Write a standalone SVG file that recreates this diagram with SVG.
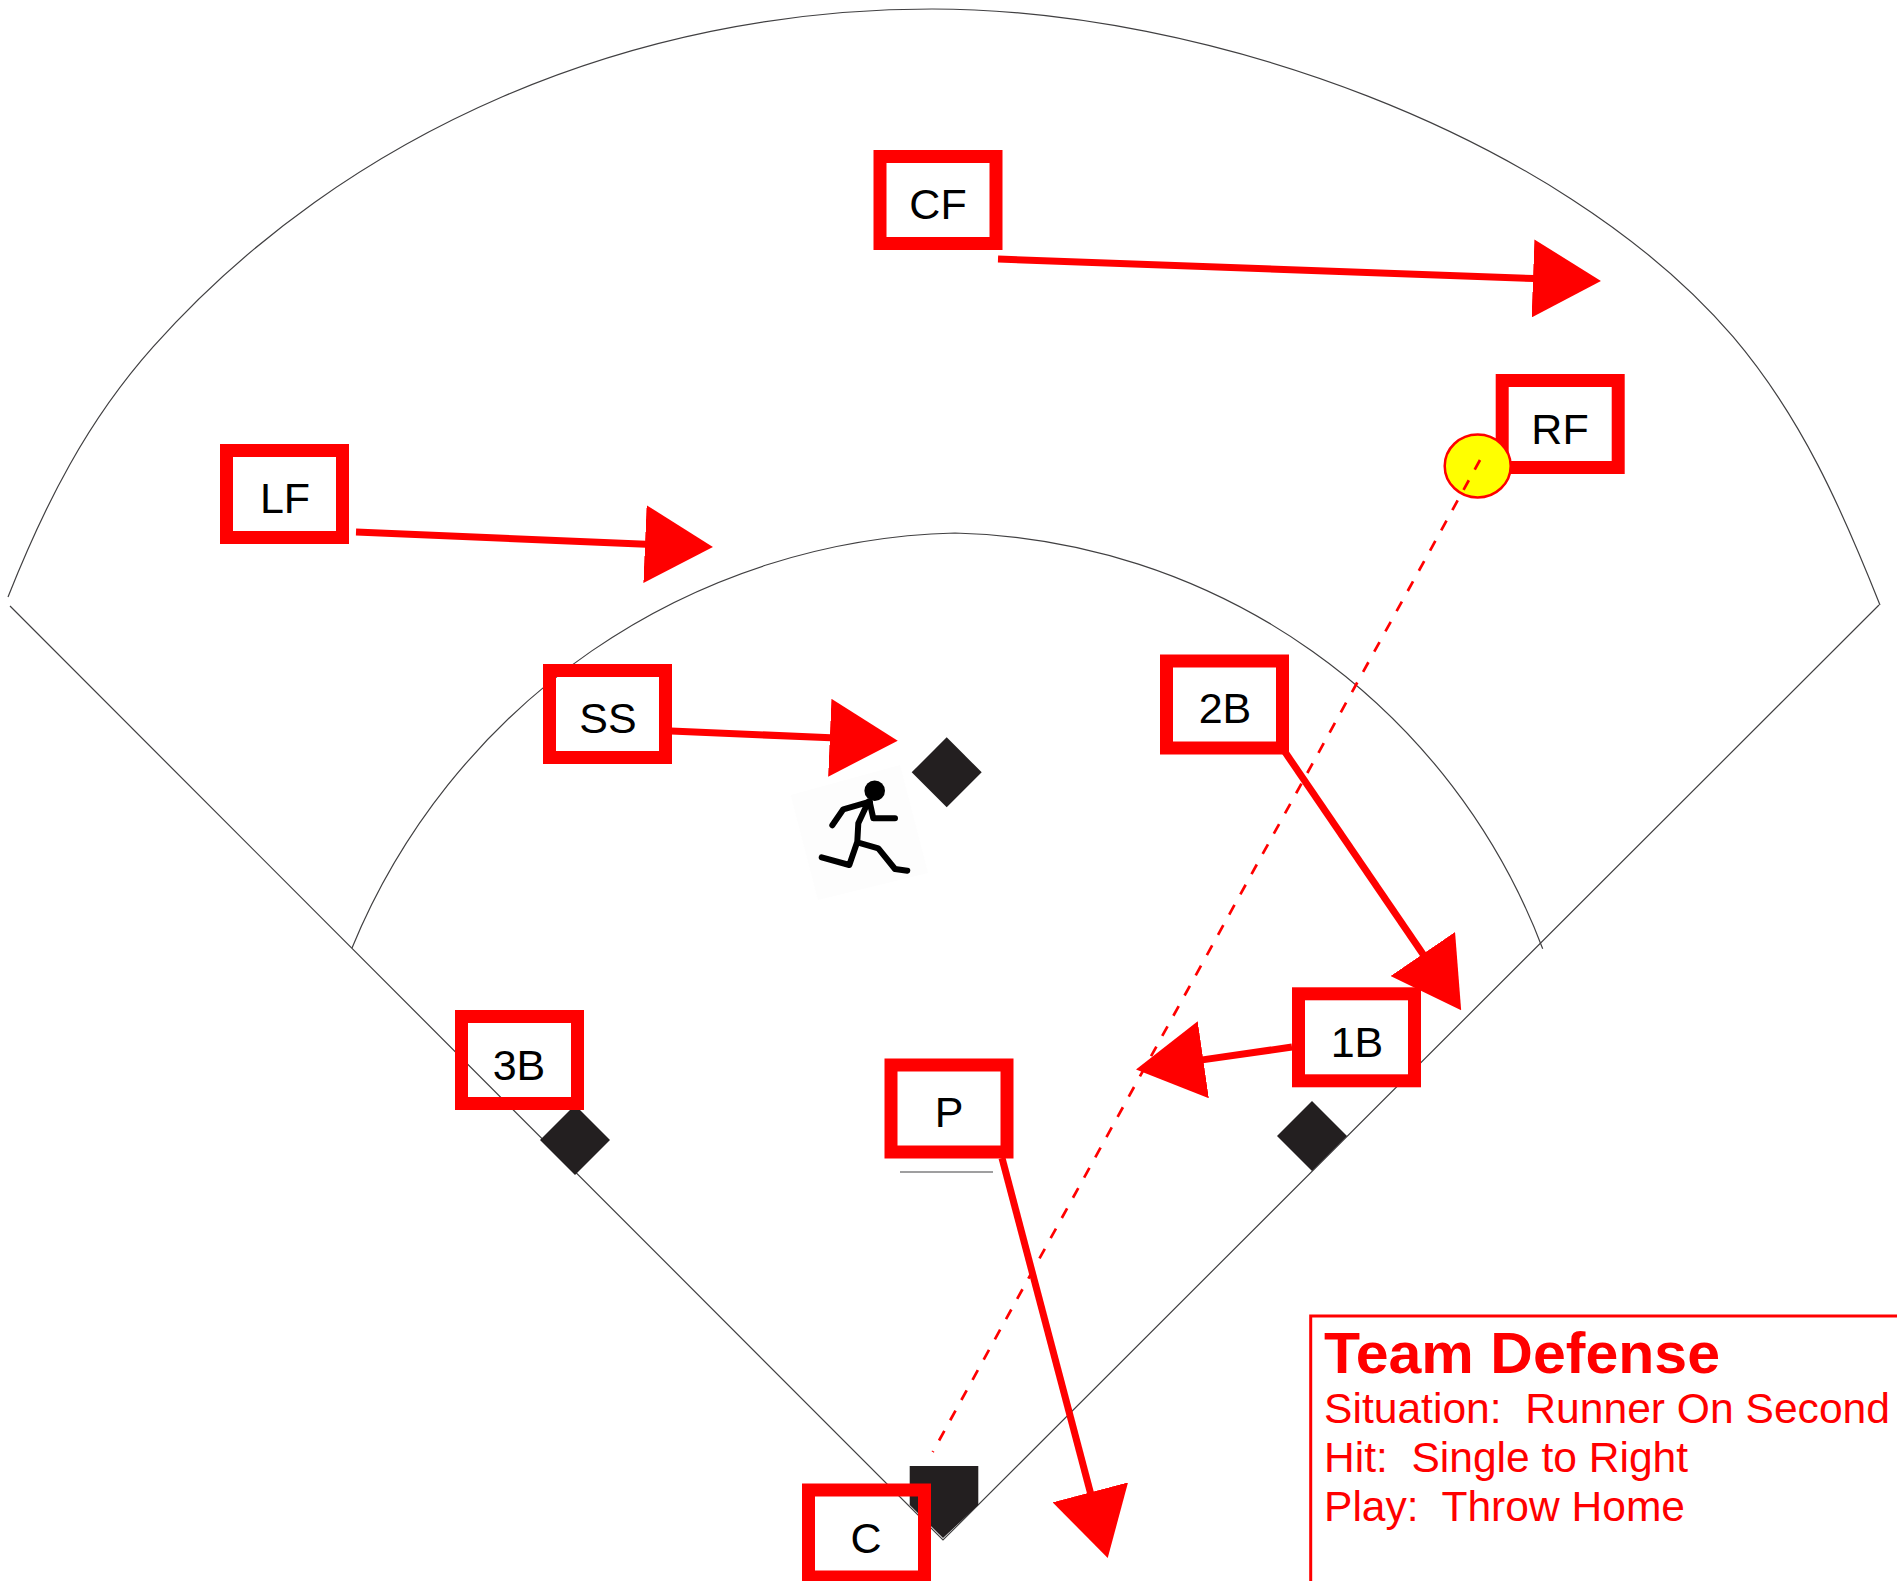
<svg xmlns="http://www.w3.org/2000/svg" width="1897" height="1581" viewBox="0 0 1897 1581">
<style>
.field{fill:none;stroke:#414042;stroke-width:1.2}
.base{fill:#231f20}
.box{fill:none;stroke:#f00;stroke-width:13}
.lbl{font-family:"Liberation Sans",Arial,sans-serif;font-size:43px;fill:#000;text-anchor:middle}
.arrow{fill:none;stroke:#f00;stroke-width:7;marker-end:url(#head)}
.fig{fill:none;stroke:#000;stroke-width:6;stroke-linecap:round;stroke-linejoin:round}
.leg{font-family:"Liberation Sans",Arial,sans-serif;fill:#f00;font-size:43px;white-space:pre}
</style>
<defs>
<marker id="head" viewBox="0 0 68 78" refX="1" refY="39" markerWidth="68" markerHeight="78" markerUnits="userSpaceOnUse" orient="auto"><path d="M0 0L68 39L0 78Z" fill="#f00"/></marker>
</defs>
<rect width="1897" height="1581" fill="#fff"/>
<g id="field">
<path class="field" d="M8 597C45 504 86.800 421.300 153.300 346.700C346 130.400 632 9 932 9C1202 9 1557 132 1733 336.700C1801 416.700 1841 507 1880 605"/>
<path class="field" d="M352 948A670 670 0 0 1 955 533A644.500 644.500 0 0 1 1542.700 948.700"/>
<path class="field" d="M10 606L943 1540L1879 605"/>
<path class="field" d="M900 1172H993"/>
<polygon class="base" id="home-plate" points="909.700,1466 978.300,1466 978.300,1505 943,1538 909.700,1505"/>
<polygon class="base" id="second-base" points="946.700,737.300 981.700,772.300 946.700,807.300 911.700,772.300"/>
<polygon class="base" id="third-base" points="575,1105 610,1140 575,1175 540,1140"/>
<polygon class="base" id="first-base" points="1312,1101 1347,1136 1312,1171 1277,1136"/>
</g>
<g id="runner">
<polygon points="790.700,795 900,765 928,873 818,900" fill="#fdfdfd"/>
<circle cx="874.700" cy="790.700" r="10.300"/>
<path class="fig" d="M870 801.700L843.300 809.300L832.300 825.300M870 803.300L873.300 818.300H895M868.300 801.700L858.300 823.300L857.300 841.700L849.300 865L821.700 857.300M858.300 842.700L878.300 848.300L895 869L907.300 870.700"/>
</g>
<g id="connectors">
<line class="arrow" x1="998" y1="259" x2="1534" y2="278.500"/>
<line class="arrow" x1="356" y1="532" x2="646" y2="544.200"/>
<line class="arrow" x1="671" y1="731" x2="830.800" y2="737.800"/>
<line class="arrow" x1="1285" y1="752" x2="1423.400" y2="954.800"/>
<line class="arrow" x1="1292" y1="1047" x2="1202.300" y2="1059.900"/>
<line class="arrow" x1="1002" y1="1158" x2="1090.600" y2="1493.300"/>
</g>
<g id="node-CF"><rect class="box" x="880" y="156.500" width="116" height="87"/><text class="lbl" x="938" y="219">CF</text></g>
<g id="node-LF"><rect class="box" x="226.500" y="450.500" width="116" height="87"/><text class="lbl" x="285" y="513">LF</text></g>
<g id="node-SS"><rect class="box" x="549.500" y="670.500" width="116" height="87"/><text class="lbl" x="608" y="733">SS</text></g>
<g id="node-2B"><rect class="box" x="1166.500" y="661" width="116" height="87"/><text class="lbl" x="1225" y="723">2B</text></g>
<g id="node-1B"><rect class="box" x="1298.500" y="993.800" width="116" height="87"/><text class="lbl" x="1357" y="1056.500">1B</text></g>
<g id="node-3B"><rect class="box" x="461.500" y="1016.500" width="116" height="87"/><text class="lbl" x="519" y="1080">3B</text></g>
<g id="node-P"><rect class="box" x="891" y="1065" width="116" height="87"/><text class="lbl" x="949" y="1127">P</text></g>
<g id="node-C"><rect class="box" x="808.500" y="1490" width="116" height="87"/><text class="lbl" x="866" y="1553">C</text></g>
<g id="node-RF"><rect class="box" x="1502.200" y="380.500" width="116" height="87"/><text class="lbl" x="1560" y="444">RF</text></g>
<g id="ball"><ellipse cx="1477.700" cy="466" rx="33" ry="31.500" fill="#ff0" stroke="#f00" stroke-width="2.500"/></g>
<g id="throw"><line x1="1480" y1="460" x2="932.700" y2="1452" stroke="#f00" stroke-width="2.700" stroke-dasharray="11 12.100"/></g>
<g id="legend">
<path d="M1897 1316H1310.700V1581" fill="none" stroke="#f00" stroke-width="3"/>
<text class="leg" x="1324" y="1373" font-weight="bold" style="font-size:58px" textLength="396" lengthAdjust="spacingAndGlyphs">Team Defense</text>
<text class="leg" x="1324" y="1422.700" textLength="566" lengthAdjust="spacingAndGlyphs">Situation:  Runner On Second</text>
<text class="leg" x="1324" y="1471.700" textLength="364" lengthAdjust="spacingAndGlyphs">Hit:  Single to Right</text>
<text class="leg" x="1324" y="1520.700" textLength="361" lengthAdjust="spacingAndGlyphs">Play:  Throw Home</text>
</g>
</svg>
